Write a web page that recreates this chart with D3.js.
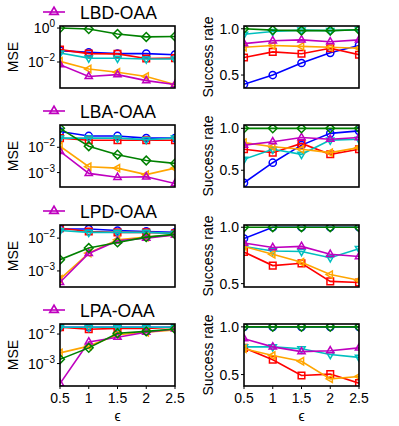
<!DOCTYPE html>
<html>
<head>
<meta charset="utf-8">
<script src="https://cdn.jsdelivr.net/npm/d3@7"></script>
<style>
  body { margin: 0; background: #fff; }
  text { font-family: "Liberation Sans", Arial, sans-serif; fill: #000; }
</style>
</head>
<body>
<div id="svg-div"></div>
<script>
var width = 399;
var height = 426;

// x values and labels
var eps = [0.5, 1, 1.5, 2, 2.5];
var epsTicks = ["0.5", "1", "1.5", "2", "2.5"];
var rowNames = ["LBD-OAA", "LBA-OAA", "LPD-OAA", "LPA-OAA"];

// series order: blue(o), red(s), cyan(v), orange(<), magenta(^), green(D)
var colors = ["#0000ff", "#ff0000", "#00bfbf", "#ffa500", "#bf00bf", "#008000"];
var shapes = ["circle", "square", "tdown", "tleft", "tup", "diamond"];

// MSE values per row (same series order)
var mseLBD = [
  [0.047, 0.037, 0.031, 0.031, 0.027],
  [0.054, 0.031, 0.030, 0.016, 0.017],
  [0.034, 0.017, 0.0166, 0.015, 0.015],
  [0.011, 0.0039, 0.0025, 0.0014, 0.00047],
  [0.007, 0.0014, 0.0018, 0.0008, 0.00047],
  [1.0, 0.87, 0.45, 0.30, 0.32]
];
var mseLBA = [
  [0.042, 0.028, 0.028, 0.023, 0.023],
  [0.023, 0.019, 0.019, 0.019, 0.019],
  [0.023, 0.023, 0.023, 0.020, 0.023],
  [0.011, 0.0017, 0.0015, 0.00083, 0.0015],
  [0.0069, 0.00093, 0.00065, 0.00068, 0.00037],
  [0.056, 0.011, 0.0051, 0.003, 0.0023]
];
var mseLPD = [
  [0.019, 0.019, 0.017, 0.016, 0.015],
  [0.020, 0.016, 0.015, 0.015, 0.014],
  [0.017, 0.015, 0.015, 0.015, 0.014],
  [0.00056, 0.0035, 0.0089, 0.0107, 0.0126],
  [0.00045, 0.0034, 0.0083, 0.010, 0.0126],
  [0.0022, 0.005, 0.0074, 0.0107, 0.013]
];
var mseLPA = [
  [0.017, 0.017, 0.017, 0.017, 0.017],
  [0.017, 0.0145, 0.0155, 0.0155, 0.017],
  [0.017, 0.017, 0.017, 0.017, 0.017],
  [0.0023, 0.0039, 0.0095, 0.0115, 0.0138],
  [0.00021, 0.0054, 0.0078, 0.0115, 0.0148],
  [0.0014, 0.0034, 0.0107, 0.0123, 0.0148]
];

// success rate per row
var srLBD = [
  [0.40, 0.50, 0.63, 0.74, 0.82],
  [0.69, 0.75, 0.73, 0.79, 0.72],
  [0.94, 0.97, 0.985, 0.98, 0.99],
  [0.80, 0.82, 0.81, 0.80, 0.79],
  [0.84, 0.87, 0.88, 0.86, 0.88],
  [1.0, 0.985, 0.98, 0.98, 0.99]
];
var srLBA = [
  [0.35, 0.59, 0.80, 0.94, 0.97],
  [0.75, 0.71, 0.82, 0.69, 0.75],
  [0.63, 0.75, 0.69, 0.86, 0.87],
  [0.83, 0.78, 0.75, 0.71, 0.77],
  [0.80, 0.84, 0.89, 0.87, 0.89],
  [1.0, 1.0, 1.0, 1.0, 1.0]
];
var srLPD = [
  [0.90, 1.0, 1.0, 1.0, 1.0],
  [0.78, 0.66, 0.68, 0.52, 0.51],
  [0.83, 0.79, 0.785, 0.73, 0.81],
  [0.83, 0.76, 0.69, 0.58, 0.53],
  [0.86, 0.82, 0.83, 0.76, 0.74],
  [1.0, 1.0, 1.0, 1.0, 1.0]
];
var srLPA = [
  [1.0, 1.0, 1.0, 1.0, 1.0],
  [0.78, 0.655, 0.49, 0.505, 0.41],
  [0.79, 0.79, 0.77, 0.71, 0.68],
  [0.77, 0.70, 0.64, 0.455, 0.48],
  [0.876, 0.79, 0.74, 0.75, 0.78],
  [1.0, 1.0, 1.0, 1.0, 1.0]
];

var mseRows = [mseLBD, mseLBA, mseLPD, mseLPA];
var srRows = [srLBD, srLBA, srLPD, srLPA];

// axis limits
var mseDomains = [[-3.53, 0.12], [-3.57, -1.12], [-3.49, -1.6], [-3.76, -1.66]];
var mseTicks = [[0, -2], [-2, -3], [-2, -3], [-2, -3]];
var srDomains = [[0.36, 1.03], [0.30, 1.04], [0.47, 1.02], [0.38, 1.03]];
var srTicks = [0.5, 1.0];

var rowTop = [26, 125, 225, 324];
var plotH = 62;
var leftX = [60, 175];
var rightX = [244, 359];

var svg = d3.select("#svg-div").append("svg")
  .attr("width", width).attr("height", height);

function markerPath(shape) {
  var p = d3.path();
  var r = 4.2;
  if (shape === "circle") {
    p.arc(0, 0, 3.6, 0, 2 * Math.PI);
  } else if (shape === "square") {
    p.rect(-3.3, -3.3, 6.6, 6.6);
  } else if (shape === "diamond") {
    p.moveTo(0, -4.4); p.lineTo(4.4, 0); p.lineTo(0, 4.4); p.lineTo(-4.4, 0); p.closePath();
  } else {
    var rot = {tup: -90, tdown: 90, tleft: 180}[shape] * Math.PI / 180;
    for (var i = 0; i < 3; i++) {
      var a = rot + i * 2 * Math.PI / 3;
      if (i === 0) p.moveTo(r * Math.cos(a), r * Math.sin(a));
      else p.lineTo(r * Math.cos(a), r * Math.sin(a));
    }
    p.closePath();
  }
  return p.toString();
}

function drawPanel(idx, xr, yScale, data, yTickVals, yTickFmt, ylabel, showX) {
  var y0 = rowTop[idx];
  var x = d3.scaleLinear().domain([0.5, 2.5]).range(xr);
  var clipId = "clip" + idx + "_" + xr[0];
  svg.append("clipPath").attr("id", clipId).append("rect")
    .attr("x", xr[0]).attr("y", y0).attr("width", xr[1] - xr[0]).attr("height", plotH);

  var g = svg.append("g").attr("clip-path", "url(#" + clipId + ")");
  var line = d3.line().x(function(d, i) { return x(eps[i]); }).y(function(d) { return yScale(d); });

  data.forEach(function(series, s) {
    g.append("path").datum(series)
      .attr("d", line)
      .attr("fill", "none")
      .attr("stroke", colors[s])
      .attr("stroke-width", 1.6);
    g.selectAll(null).data(series).enter().append("path")
      .attr("d", markerPath(shapes[s]))
      .attr("transform", function(d, i) { return "translate(" + x(eps[i]) + "," + yScale(d) + ")"; })
      .attr("fill", "none")
      .attr("stroke", colors[s])
      .attr("stroke-width", 1.5);
  });

  // frame
  svg.append("rect")
    .attr("x", xr[0]).attr("y", y0).attr("width", xr[1] - xr[0]).attr("height", plotH)
    .attr("fill", "none").attr("stroke", "#000").attr("stroke-width", 1.6);

  // y ticks
  yTickVals.forEach(function(v) {
    var yy = yScale(v);
    svg.append("line").attr("x1", xr[0] - 3).attr("x2", xr[0]).attr("y1", yy).attr("y2", yy)
      .attr("stroke", "#000").attr("stroke-width", 1);
    yTickFmt(svg, xr[0] - 5, yy, v);
  });

  // y label
  svg.append("text")
    .attr("transform", "translate(" + (xr[0] - (ylabel === "MSE" ? 42 : 31)) + "," + (y0 + plotH / 2) + ") rotate(-90)")
    .attr("text-anchor", "middle")
    .attr("font-size", 14)
    .text(ylabel);

  if (showX) {
    eps.forEach(function(e, i) {
      svg.append("line").attr("x1", x(e)).attr("x2", x(e)).attr("y1", y0 + plotH).attr("y2", y0 + plotH + 3)
        .attr("stroke", "#000").attr("stroke-width", 1);
      svg.append("text").attr("x", x(e)).attr("y", y0 + plotH + 17)
        .attr("text-anchor", "middle").attr("font-size", 14).text(epsTicks[i]);
    });
    svg.append("text").attr("x", (xr[0] + xr[1]) / 2).attr("y", y0 + plotH + 35)
      .attr("text-anchor", "middle").attr("font-size", 14).text("\u03f5");
  }
}

function logLabel(sel, xx, yy, v) {
  var ex = Math.round(Math.log10(v));
  var t = sel.append("text").attr("x", xx).attr("y", yy + 5)
    .attr("text-anchor", "end").attr("font-size", 14);
  t.append("tspan").text("10");
  t.append("tspan").attr("dy", -6).attr("font-size", 10).text(ex < 0 ? "\u2212" + (-ex) : String(ex));
}

function linLabel(sel, xx, yy, v) {
  sel.append("text").attr("x", xx).attr("y", yy + 5)
    .attr("text-anchor", "end").attr("font-size", 14).text(v.toFixed(1));
}

for (var r = 0; r < 4; r++) {
  var rowY = rowTop[r];
  var yl = d3.scaleLog()
    .domain([Math.pow(10, mseDomains[r][0]), Math.pow(10, mseDomains[r][1])])
    .range([rowY + plotH, rowY]);
  drawPanel(r, leftX, yl, mseRows[r], mseTicks[r].map(function(e) { return Math.pow(10, e); }),
    logLabel, "MSE", r === 3);

  var yr = d3.scaleLinear().domain(srDomains[r]).range([rowY + plotH, rowY]);
  drawPanel(r, rightX, yr, srRows[r], srTicks, linLabel, "Success rate", r === 3);

  // legend
  var ly = rowY - 14;
  svg.append("line").attr("x1", 43).attr("x2", 65).attr("y1", ly).attr("y2", ly)
    .attr("stroke", colors[4]).attr("stroke-width", 1.6);
  svg.append("path").attr("d", markerPath("tup"))
    .attr("transform", "translate(54," + ly + ") scale(1.15)")
    .attr("fill", "none").attr("stroke", colors[4]).attr("stroke-width", 1.5);
  svg.append("text").attr("x", 80).attr("y", ly + 6.5)
    .attr("font-size", 17.5).text(rowNames[r]);
}
</script>
</body>
</html>
